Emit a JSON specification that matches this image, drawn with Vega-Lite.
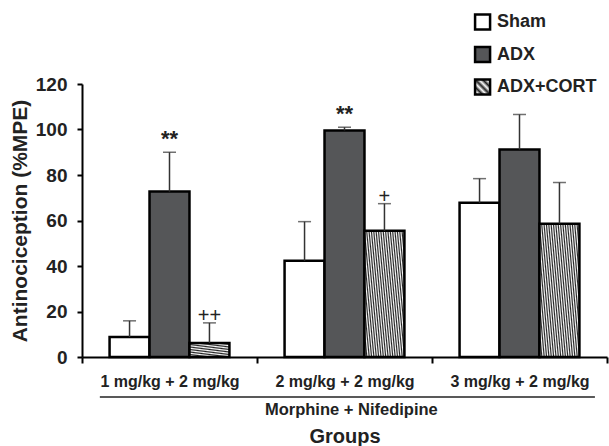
{
  "$schema": "https://vega.github.io/schema/vega-lite/v6.json",
  "width": 525,
  "height": 273,
  "autosize": {"type": "none"},
  "padding": {"left": 82, "top": 84, "right": 2, "bottom": 89},
  "background": "white",
  "config": {"view": {"stroke": null}, "font": "Liberation Sans"},
  "resolve": {"scale": {"x": "independent", "y": "independent"}},
  "layer": [
    {
      "data": {"values": [
        {"group": "1 mg/kg + 2 mg/kg", "treat": "Sham", "mean": 8.8, "upper": 15.9, "sig": ""},
        {"group": "1 mg/kg + 2 mg/kg", "treat": "ADX", "mean": 72.7, "upper": 90, "sig": "**"},
        {"group": "1 mg/kg + 2 mg/kg", "treat": "ADX+CORT", "mean": 6.2, "upper": 15, "sig": "++"},
        {"group": "2 mg/kg + 2 mg/kg", "treat": "Sham", "mean": 42.3, "upper": 59.5, "sig": ""},
        {"group": "2 mg/kg + 2 mg/kg", "treat": "ADX", "mean": 99.6, "upper": 101, "sig": "**"},
        {"group": "2 mg/kg + 2 mg/kg", "treat": "ADX+CORT", "mean": 55.5, "upper": 67.4, "sig": "+"},
        {"group": "3 mg/kg + 2 mg/kg", "treat": "Sham", "mean": 67.8, "upper": 78.4, "sig": ""},
        {"group": "3 mg/kg + 2 mg/kg", "treat": "ADX", "mean": 91.2, "upper": 106.6, "sig": ""},
        {"group": "3 mg/kg + 2 mg/kg", "treat": "ADX+CORT", "mean": 58.6, "upper": 76.7, "sig": ""}
      ]},
      "encoding": {
        "x": {"field": "group", "type": "nominal", "sort": null,
          "scale": {"paddingInner": 0, "paddingOuter": 0},
          "axis": {"title": "Groups", "titleFontSize": 20, "titleFontWeight": "bold", "titleColor": "#222", "titlePadding": 37,
            "labelAngle": 0, "labelFontSize": 16, "labelFontWeight": "bold", "labelColor": "#222", "labelPadding": 10,
            "tickBand": "extent", "tickSize": 6, "tickWidth": 2, "tickColor": "black", "domainColor": "black", "domainWidth": 2}},
        "xOffset": {"field": "treat", "type": "nominal", "sort": null, "scale": {"paddingInner": 0, "paddingOuter": 0.69}}
      },
      "layer": [
        {
          "mark": {"type": "bar", "stroke": "black", "strokeWidth": 2.5},
          "encoding": {
            "y": {"field": "mean", "type": "quantitative", "scale": {"domain": [0, 120], "nice": false},
              "axis": {"title": "Antinociception (%MPE)", "titleFontSize": 21, "titleFontWeight": "bold", "titleColor": "#222", "titlePadding": 5,
                "values": [0, 20, 40, 60, 80, 100, 120], "labelFontSize": 19, "labelFontWeight": "bold", "labelColor": "#222", "labelPadding": 10,
                "tickSize": 5, "tickWidth": 2, "tickColor": "black", "domainColor": "black", "domainWidth": 2, "grid": false}},
            "fill": {
              "condition": [
                {"test": "datum.treat === 'ADX+CORT' && datum.group === '1 mg/kg + 2 mg/kg'",
                  "value": {"gradient": "linear", "x1": 0, "y1": 1, "x2": 0.679, "y2": -0.893, "stops": [
                    {"offset": 0, "color": "#222"}, {"offset": 0.0417, "color": "#fff"}, {"offset": 0.0833, "color": "#222"}, {"offset": 0.125, "color": "#fff"},
                    {"offset": 0.1667, "color": "#222"}, {"offset": 0.2083, "color": "#fff"}, {"offset": 0.25, "color": "#222"}, {"offset": 0.2917, "color": "#fff"},
                    {"offset": 0.3333, "color": "#222"}, {"offset": 0.375, "color": "#fff"}, {"offset": 0.4167, "color": "#222"}, {"offset": 0.4583, "color": "#fff"},
                    {"offset": 0.5, "color": "#222"}, {"offset": 0.5417, "color": "#fff"}, {"offset": 0.5833, "color": "#222"}, {"offset": 0.625, "color": "#fff"},
                    {"offset": 0.6667, "color": "#222"}, {"offset": 0.7083, "color": "#fff"}, {"offset": 0.75, "color": "#222"}, {"offset": 0.7917, "color": "#fff"},
                    {"offset": 0.8333, "color": "#222"}, {"offset": 0.875, "color": "#fff"}, {"offset": 0.9167, "color": "#222"}, {"offset": 0.9583, "color": "#fff"},
                    {"offset": 1, "color": "#222"}]}},
                {"test": "datum.treat === 'ADX+CORT'",
                  "value": {"gradient": "linear", "x1": 0, "y1": 1, "x2": 2.167, "y2": 0.35, "stops": [
                    {"offset": 0, "color": "#222"}, {"offset": 0.0125, "color": "#fff"}, {"offset": 0.025, "color": "#222"}, {"offset": 0.0375, "color": "#fff"},
                    {"offset": 0.05, "color": "#222"}, {"offset": 0.0625, "color": "#fff"}, {"offset": 0.075, "color": "#222"}, {"offset": 0.0875, "color": "#fff"},
                    {"offset": 0.1, "color": "#222"}, {"offset": 0.1125, "color": "#fff"}, {"offset": 0.125, "color": "#222"}, {"offset": 0.1375, "color": "#fff"},
                    {"offset": 0.15, "color": "#222"}, {"offset": 0.1625, "color": "#fff"}, {"offset": 0.175, "color": "#222"}, {"offset": 0.1875, "color": "#fff"},
                    {"offset": 0.2, "color": "#222"}, {"offset": 0.2125, "color": "#fff"}, {"offset": 0.225, "color": "#222"}, {"offset": 0.2375, "color": "#fff"},
                    {"offset": 0.25, "color": "#222"}, {"offset": 0.2625, "color": "#fff"}, {"offset": 0.275, "color": "#222"}, {"offset": 0.2875, "color": "#fff"},
                    {"offset": 0.3, "color": "#222"}, {"offset": 0.3125, "color": "#fff"}, {"offset": 0.325, "color": "#222"}, {"offset": 0.3375, "color": "#fff"},
                    {"offset": 0.35, "color": "#222"}, {"offset": 0.3625, "color": "#fff"}, {"offset": 0.375, "color": "#222"}, {"offset": 0.3875, "color": "#fff"},
                    {"offset": 0.4, "color": "#222"}, {"offset": 0.4125, "color": "#fff"}, {"offset": 0.425, "color": "#222"}, {"offset": 0.4375, "color": "#fff"},
                    {"offset": 0.45, "color": "#222"}, {"offset": 0.4625, "color": "#fff"}, {"offset": 0.475, "color": "#222"}, {"offset": 0.4875, "color": "#fff"},
                    {"offset": 0.5, "color": "#222"}, {"offset": 0.5125, "color": "#fff"}, {"offset": 0.525, "color": "#222"}, {"offset": 0.5375, "color": "#fff"},
                    {"offset": 0.55, "color": "#222"}, {"offset": 0.5625, "color": "#fff"}, {"offset": 0.575, "color": "#222"}, {"offset": 0.5875, "color": "#fff"},
                    {"offset": 0.6, "color": "#222"}, {"offset": 0.6125, "color": "#fff"}, {"offset": 0.625, "color": "#222"}, {"offset": 0.6375, "color": "#fff"},
                    {"offset": 0.65, "color": "#222"}, {"offset": 0.6625, "color": "#fff"}, {"offset": 0.675, "color": "#222"}, {"offset": 0.6875, "color": "#fff"},
                    {"offset": 0.7, "color": "#222"}, {"offset": 0.7125, "color": "#fff"}, {"offset": 0.725, "color": "#222"}, {"offset": 0.7375, "color": "#fff"},
                    {"offset": 0.75, "color": "#222"}, {"offset": 0.7625, "color": "#fff"}, {"offset": 0.775, "color": "#222"}, {"offset": 0.7875, "color": "#fff"},
                    {"offset": 0.8, "color": "#222"}, {"offset": 0.8125, "color": "#fff"}, {"offset": 0.825, "color": "#222"}, {"offset": 0.8375, "color": "#fff"},
                    {"offset": 0.85, "color": "#222"}, {"offset": 0.8625, "color": "#fff"}, {"offset": 0.875, "color": "#222"}, {"offset": 0.8875, "color": "#fff"},
                    {"offset": 0.9, "color": "#222"}, {"offset": 0.9125, "color": "#fff"}, {"offset": 0.925, "color": "#222"}, {"offset": 0.9375, "color": "#fff"},
                    {"offset": 0.95, "color": "#222"}, {"offset": 0.9625, "color": "#fff"}, {"offset": 0.975, "color": "#222"}, {"offset": 0.9875, "color": "#fff"},
                    {"offset": 1, "color": "#222"}]}}
              ],
              "field": "treat", "type": "nominal",
              "scale": {"domain": ["Sham", "ADX", "ADX+CORT"], "range": ["#ffffff", "#555658", "#999999"]},
              "legend": null
            }
          }
        },
        {
          "mark": {"type": "rule", "strokeWidth": 1.5, "color": "#333"},
          "encoding": {"y": {"field": "mean", "type": "quantitative", "scale": {"domain": [0, 120], "nice": false}}, "y2": {"field": "upper"}}
        },
        {
          "mark": {"type": "tick", "size": 13, "thickness": 1.5, "color": "#333", "orient": "horizontal"},
          "encoding": {"y": {"field": "upper", "type": "quantitative", "scale": {"domain": [0, 120], "nice": false}}}
        },
        {
          "transform": [{"filter": "datum.sig === '**'"}],
          "mark": {"type": "text", "fontSize": 22, "fontWeight": "bold", "color": "#222", "baseline": "alphabetic", "dy": -6},
          "encoding": {"y": {"field": "upper", "type": "quantitative", "scale": {"domain": [0, 120], "nice": false}}, "text": {"field": "sig"}}
        },
        {
          "transform": [{"filter": "datum.sig === '+' || datum.sig === '++'"}],
          "mark": {"type": "text", "fontSize": 20, "color": "#222", "baseline": "alphabetic", "dy": -1},
          "encoding": {"y": {"field": "upper", "type": "quantitative", "scale": {"domain": [0, 120], "nice": false}}, "text": {"field": "sig"}}
        }
      ]
    },
    {
      "data": {"values": [{"a": 0.034, "b": 0.977, "level": -17.6}]},
      "mark": {"type": "rule", "strokeWidth": 1.5, "color": "#222", "clip": false},
      "encoding": {
        "x": {"field": "a", "type": "quantitative", "scale": {"domain": [0, 1], "nice": false}, "axis": null},
        "x2": {"field": "b"},
        "y": {"field": "level", "type": "quantitative", "scale": {"domain": [0, 120], "nice": false}, "axis": null}
      }
    },
    {
      "data": {"values": [{"a": 0.513, "level": -23.3, "label": "Morphine + Nifedipine"}]},
      "mark": {"type": "text", "fontSize": 16.5, "fontWeight": "bold", "color": "#222", "baseline": "middle", "clip": false},
      "encoding": {
        "x": {"field": "a", "type": "quantitative", "scale": {"domain": [0, 1], "nice": false}, "axis": null},
        "y": {"field": "level", "type": "quantitative", "scale": {"domain": [0, 120], "nice": false}, "axis": null},
        "text": {"field": "label"}
      }
    },
    {
      "data": {"values": [{"treat": "Sham"}, {"treat": "ADX"}, {"treat": "ADX+CORT"}]},
      "encoding": {
        "y": {"field": "treat", "type": "nominal", "sort": null, "scale": {"type": "point", "range": [-62, 3], "padding": 0}, "axis": null}
      },
      "layer": [
        {
          "mark": {"type": "point", "shape": "square", "size": 225, "filled": true, "stroke": "black", "strokeWidth": 2.5, "opacity": 1, "clip": false},
          "encoding": {
            "x": {"datum": 0.763, "type": "quantitative", "scale": {"domain": [0, 1], "nice": false}, "axis": null},
            "fill": {
              "condition": [
                {"test": "datum.treat === 'ADX+CORT'", "value": {"gradient": "linear", "x1": 0, "y1": 1, "x2": 1, "y2": 0, "stops": [
                  {"offset": 0, "color": "#222"}, {"offset": 0.125, "color": "#fff"}, {"offset": 0.25, "color": "#222"}, {"offset": 0.375, "color": "#fff"},
                  {"offset": 0.5, "color": "#222"}, {"offset": 0.625, "color": "#fff"}, {"offset": 0.75, "color": "#222"}, {"offset": 0.875, "color": "#fff"},
                  {"offset": 1, "color": "#222"}]}},
                {"test": "datum.treat === 'ADX'", "value": "#555658"}
              ],
              "value": "#ffffff"
            }
          }
        },
        {
          "mark": {"type": "text", "align": "left", "baseline": "middle", "fontSize": 18, "fontWeight": "bold", "color": "#222", "clip": false},
          "encoding": {
            "x": {"datum": 0.7905, "type": "quantitative", "scale": {"domain": [0, 1], "nice": false}, "axis": null},
            "text": {"field": "treat"}
          }
        }
      ]
    }
  ]
}
